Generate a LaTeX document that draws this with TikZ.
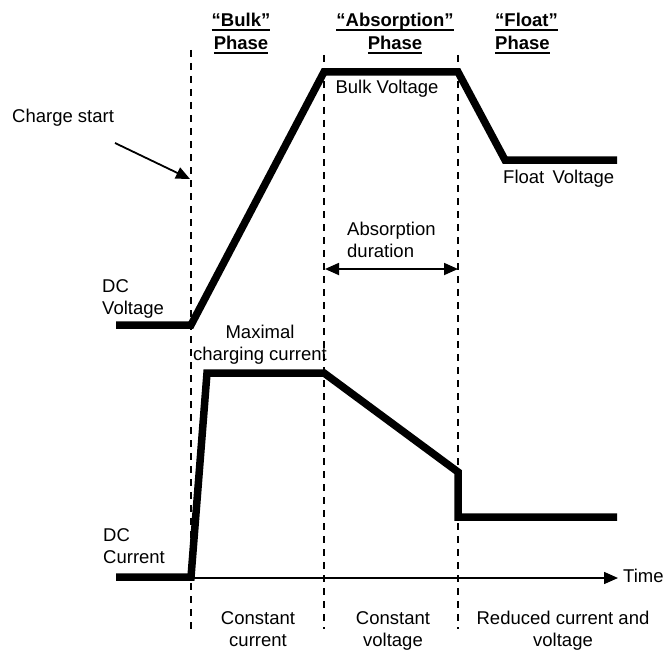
\documentclass[tikz,border=0pt]{standalone}
\usepackage{fontspec}
\setmainfont{Liberation Sans}
\usepackage{tikz}
\usetikzlibrary{arrows.meta}
\usetikzlibrary{positioning}
\newcommand{\ulword}[1]{\setbox0\hbox{#1}\rlap{\vrule width\wd0 height -2.2pt depth 3.8pt}\box0}
\tikzset{curve/.style = {line width=7.5pt}}
\tikzset{phaseline/.style = {line width=1.6pt, dash pattern=on 7pt off 6pt}}
\tikzset{lbl/.style = {inner sep=0, font=\fontsize{18.5}{22}\selectfont}}
\tikzset{hdr/.style = {inner sep=0, font=\fontsize{18.5}{23}\selectfont\bfseries}}
\tikzset{arr/.style = {line width=1.8pt, -{Triangle[length=14pt,width=12pt]}}}

\begin{document}
\begin{tikzpicture}[x=1pt, y=-1pt]
          \useasboundingbox (0, 0) rectangle (666, 650);

          % phase borders
          \coordinate (b1) at (191, 50);
          \coordinate (b2) at (324, 55);
          \coordinate (b3) at (458, 55);
          \draw [phaseline] (b1) -- (191, 629);
          \draw [phaseline] (b2) -- (324, 629);
          \draw [phaseline] (b3) -- (458, 629);

          % phase titles (base = last line)
          \node [hdr, anchor=base, align=center] (bulk) at (241, 50) {\ulword{“Bulk”}\\\ulword{Phase}};
          \node [hdr, anchor=base, align=center] (absorb) at (395, 50) {\ulword{“Absorption”}\\\ulword{Phase}};
          \node [hdr, anchor=base west, align=left] (float) at (495, 50) {\ulword{“Float”}\\\ulword{Phase}};

          % voltage
          \draw [curve] (116, 325) -- (191, 325) -- (324, 72) -- (458, 72)
                        -- (505, 160) -- (617, 160);
          \node [lbl, anchor=base west, align=left] (dcv) at (102, 314) {DC\\Voltage};
          \node [lbl, anchor=base] (bulkv) at (387, 94) {Bulk Voltage};
          \node [lbl, anchor=base west] (floatv) at (503, 183) {Float\, Voltage};

          % current
          \draw [curve] (116, 577) -- (191, 577) -- (207, 373) -- (324, 373)
                        -- (458, 472) -- (458, 517) -- (617, 517);
          \node [lbl, anchor=base west, align=left] (dci) at (103, 563) {DC\\Current};
          \node [lbl, anchor=base, align=center] (maxi) at (260, 360) {Maximal\\charging current};

          % time axis
          \coordinate (t0) at (191, 578);
          \coordinate (t1) at (618, 578);
          \draw [arr, line width=1.5pt] (t0) -- (t1);
          \node [lbl, anchor=base west] (time) at (623, 582) {Time};

          % charge start
          \node [lbl, anchor=base west] (cstart) at (12, 123) {Charge start};
          \coordinate (cs) at (115, 143);
          \draw [arr] (cs) -- (190, 179);

          % absorption duration
          \node [lbl, anchor=base west, align=left] (absd) at (347, 257) {Absorption\\duration};
          \draw [arr, {Triangle[length=14pt,width=12pt]}-{Triangle[length=14pt,width=12pt]}]
                (325, 269) -- (458, 269);

          % modes
          \node [lbl, anchor=base, align=center] (cc) at (258, 646) {Constant\\current};
          \node [lbl, anchor=base, align=center] (cv) at (393, 646) {Constant\\voltage};
          \node [lbl, anchor=base, align=center] (rc) at (563, 646) {Reduced current and\\voltage};
        \end{tikzpicture}
\end{document}
